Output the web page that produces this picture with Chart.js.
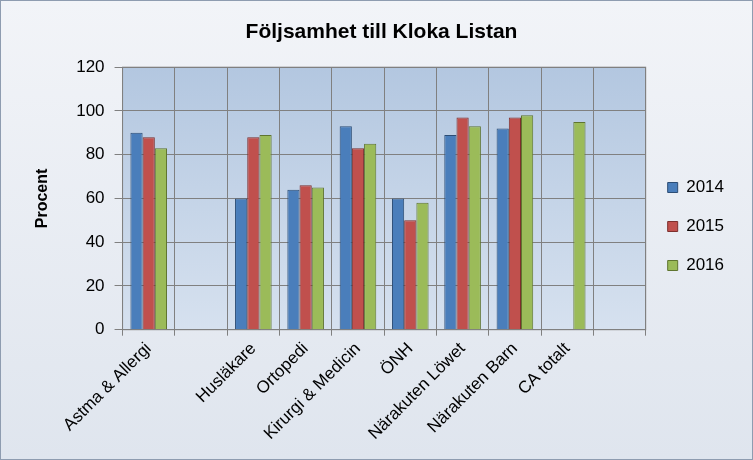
<!DOCTYPE html>
<html><head><meta charset="utf-8">
<script src="https://cdn.jsdelivr.net/npm/chart.js@4"></script>
<style>html,body{margin:0;padding:0;}#w{width:751px;height:458px;border:1px solid #8e9cb0;background:linear-gradient(#f2f4f8,#dfe5ee);}</style>
</head><body><div id="w"><canvas id="c"></canvas></div>
<script>
const categories=["Astma & Allergi","","Husläkare","Ortopedi","Kirurgi & Medicin","ÖNH","Närakuten Löwet","Närakuten Barn","CA totalt",""];
const s2014=[90,null,60,64,93,60,89,92,null,null];
const s2015=[88,null,88,66,83,50,97,97,null,null];
const s2016=[83,null,89,65,85,58,93,98,95,null];
const yTicks=[0,20,40,60,80,100,120];
const bgPlugin={id:'bg',beforeDraw(ch){const a=ch.chartArea,c=ch.ctx;const g=c.createLinearGradient(0,a.top,0,a.bottom);g.addColorStop(0,'#b3c7e0');g.addColorStop(1,'#d6e1ef');c.save();c.fillStyle=g;c.fillRect(a.left,a.top,a.right-a.left,a.bottom-a.top);c.strokeStyle='#808080';c.strokeRect(a.left,a.top,a.right-a.left,a.bottom-a.top);c.restore();}};
function ds(label,data,col,brd){return{label,data,backgroundColor:col,borderColor:brd,borderWidth:1,categoryPercentage:0.7,barPercentage:1};}
new Chart(document.getElementById('c'),{type:'bar',
data:{labels:categories,datasets:[ds('2014',s2014,'#4a7ebb','#2c4d75'),ds('2015',s2015,'#c0504d','#7d2f2d'),ds('2016',s2016,'#9bbb59','#5f7530')]},
options:{responsive:true,maintainAspectRatio:false,animation:false,
layout:{padding:{left:28,right:18,top:5,bottom:12}},
plugins:{title:{display:true,text:'Följsamhet till Kloka Listan',font:{family:'Liberation Sans',size:21,weight:'bold'},color:'#000',padding:{top:14,bottom:22}},
legend:{position:'right',labels:{font:{family:'Liberation Sans',size:17},color:'#000',boxWidth:10,boxHeight:10,padding:22},onClick:null},tooltip:{enabled:false}},
scales:{x:{grid:{color:'#808080',offset:true,drawTicks:true,tickLength:6},border:{color:'#808080'},ticks:{maxRotation:45,minRotation:45,color:'#000',font:{family:'Liberation Sans',size:17},autoSkip:false}},
y:{min:0,max:120,afterBuildTicks(ax){ax.ticks=yTicks.map(v=>({value:v}));},grid:{color:'#808080'},border:{color:'#808080'},title:{display:true,text:'Procent',font:{family:'Liberation Sans',size:16,weight:'bold'},color:'#000',padding:{bottom:14}},ticks:{color:'#000',font:{family:'Liberation Sans',size:17},padding:10}}}},
plugins:[bgPlugin]});
</script></body></html>
